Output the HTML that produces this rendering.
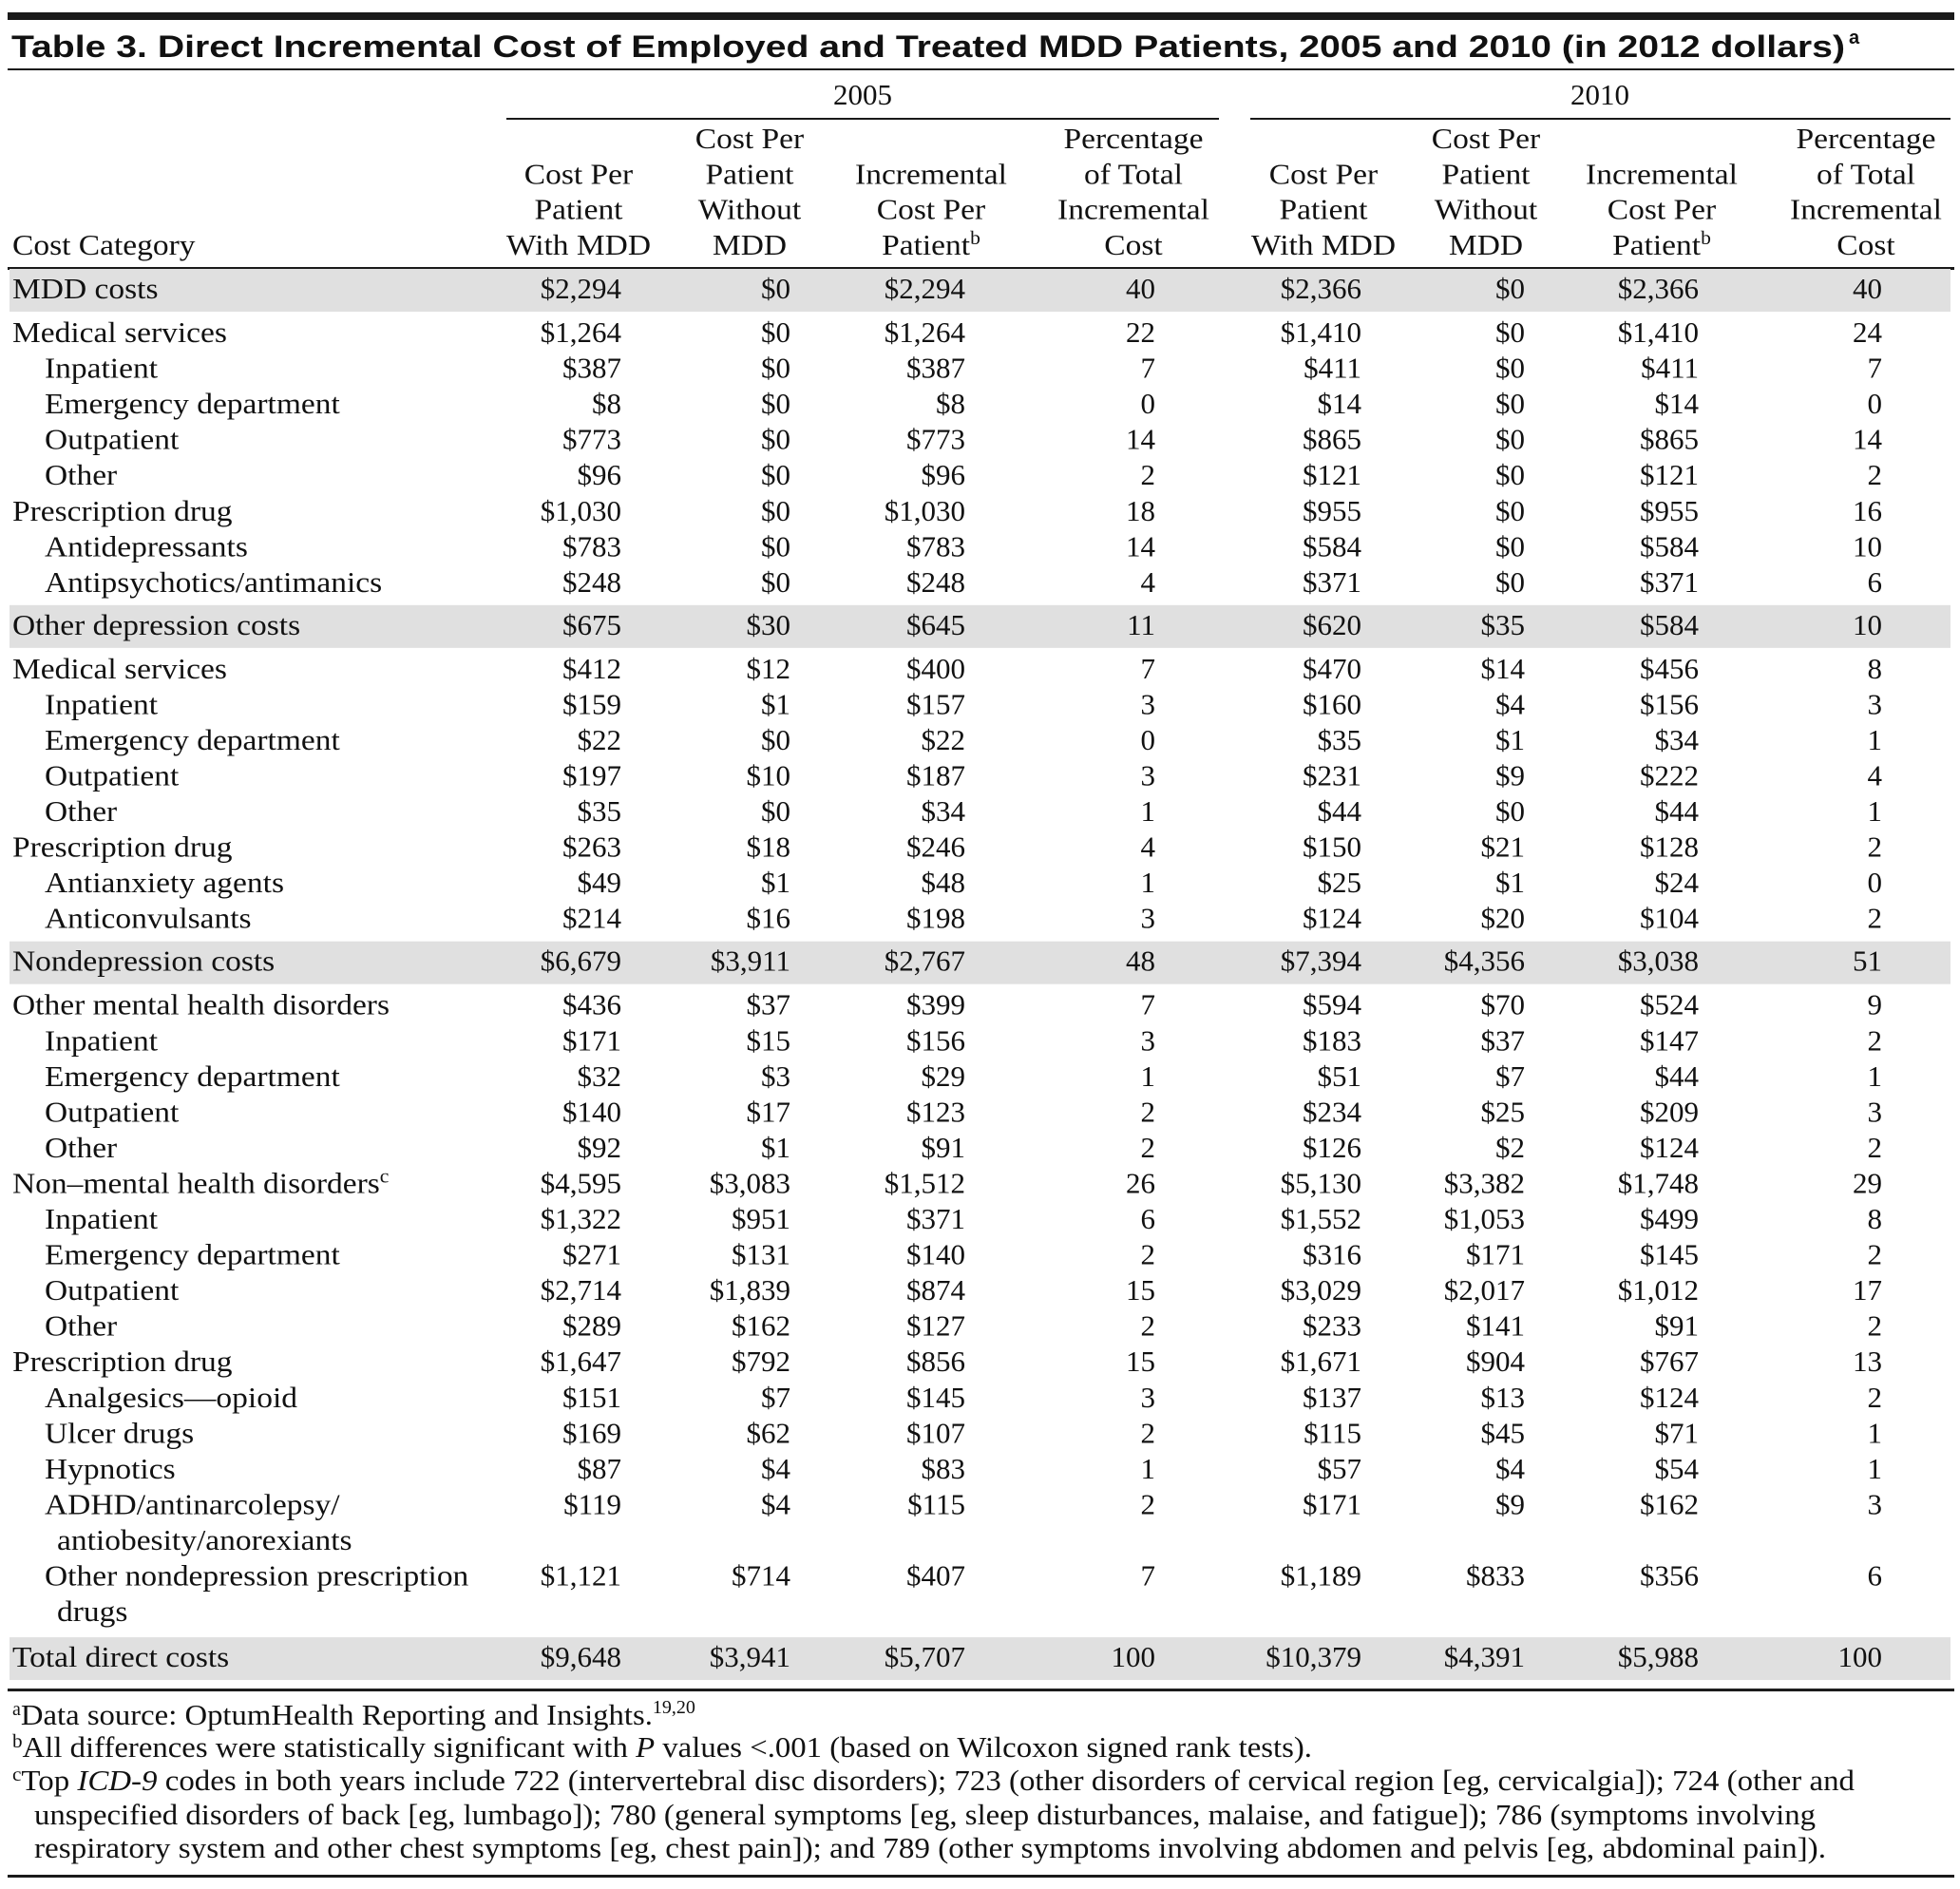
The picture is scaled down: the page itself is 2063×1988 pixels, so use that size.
<!DOCTYPE html>
<html><head><meta charset="utf-8"><style>
html,body{margin:0;padding:0;background:#fff;}
svg{display:block;}
text{font-family:"Liberation Serif",serif;font-size:31px;fill:#111;}
.t{font-family:"Liberation Sans",sans-serif;font-weight:bold;font-size:32px;}
</style></head><body>
<svg id="tbl" width="2063" height="1988" viewBox="0 0 2063 1988" xmlns="http://www.w3.org/2000/svg">
<rect x="8" y="13" width="2049" height="8" fill="#1a1a1a"/>
<text class="t" x="12" y="60" textLength="1930" lengthAdjust="spacingAndGlyphs">Table 3. Direct Incremental Cost of Employed and Treated MDD Patients, 2005 and 2010 (in 2012 dollars)</text>
<text class="t" x="1946" y="46" style="font-size:20px">a</text>
<rect x="8" y="72" width="2049" height="2" fill="#1a1a1a"/>
<text x="908" y="110" text-anchor="middle">2005</text>
<text x="1684" y="110" text-anchor="middle">2010</text>
<rect x="533" y="124" width="750" height="2" fill="#1a1a1a"/>
<rect x="1316" y="124" width="737" height="2" fill="#1a1a1a"/>
<text id="cc" x="13" y="268">Cost Category</text>
<g id="hdr"></g>
<rect x="8" y="281" width="2049" height="3" fill="#1a1a1a"/>
<g id="body"></g>
<g id="foot">
<text x="13" y="1815"><tspan font-size="20" dy="-10">a</tspan><tspan dy="10" textLength="665" lengthAdjust="spacingAndGlyphs">Data source: OptumHealth Reporting and Insights.</tspan><tspan font-size="20" dy="-12">19,20</tspan></text>
<text x="13" y="1849" textLength="1368" lengthAdjust="spacingAndGlyphs"><tspan font-size="20" dy="-10">b</tspan><tspan dy="10">All differences were statistically significant with </tspan><tspan font-style="italic">P</tspan> values &lt;.001 (based on Wilcoxon signed rank tests).</text>
<text x="13" y="1884" textLength="1939" lengthAdjust="spacingAndGlyphs"><tspan font-size="20" dy="-10">c</tspan><tspan dy="10">Top </tspan><tspan font-style="italic">ICD-9</tspan> codes in both years include 722 (intervertebral disc disorders); 723 (other disorders of cervical region [eg, cervicalgia]); 724 (other and</text>
<text x="36" y="1920" textLength="1875" lengthAdjust="spacingAndGlyphs">unspecified disorders of back [eg, lumbago]); 780 (general symptoms [eg, sleep disturbances, malaise, and fatigue]); 786 (symptoms involving</text>
<text x="36" y="1955" textLength="1886" lengthAdjust="spacingAndGlyphs">respiratory system and other chest symptoms [eg, chest pain]); and 789 (other symptoms involving abdomen and pelvis [eg, abdominal pain]).</text>
</g>
<rect x="8" y="1973" width="2049" height="3" fill="#1a1a1a"/>
</svg>
<script>
var NS='http://www.w3.org/2000/svg';
var colCenters=[609,789,980,1193,1393,1564,1749,1964];
var colRights=[654,832,1016,1216,1433,1605,1788,1981];
var headers=[["Cost Per","Patient","With MDD"],["Cost Per","Patient","Without","MDD"],["Incremental","Cost Per","Patient^b"],["Percentage","of Total","Incremental","Cost"]];
var labels=[
["MDD costs",0,"band"],["Medical services",0],["Inpatient",1],["Emergency department",1],["Outpatient",1],["Other",1],["Prescription drug",0],["Antidepressants",1],["Antipsychotics/antimanics",1],
["Other depression costs",0,"band"],["Medical services",0],["Inpatient",1],["Emergency department",1],["Outpatient",1],["Other",1],["Prescription drug",0],["Antianxiety agents",1],["Anticonvulsants",1],
["Nondepression costs",0,"band"],["Other mental health disorders",0],["Inpatient",1],["Emergency department",1],["Outpatient",1],["Other",1],["Non\u2013mental health disorders^c",0],["Inpatient",1],["Emergency department",1],["Outpatient",1],["Other",1],["Prescription drug",0],["Analgesics\u2014opioid",1],["Ulcer drugs",1],["Hypnotics",1],["ADHD/antinarcolepsy/",1],["antiobesity/anorexiants",2,"cont"],["Other nondepression prescription",1],["drugs",2,"cont"],
["Total direct costs",0,"band"]];
var values2005=[
["$2,294","$0","$2,294","40"],["$1,264","$0","$1,264","22"],["$387","$0","$387","7"],["$8","$0","$8","0"],["$773","$0","$773","14"],["$96","$0","$96","2"],["$1,030","$0","$1,030","18"],["$783","$0","$783","14"],["$248","$0","$248","4"],
["$675","$30","$645","11"],["$412","$12","$400","7"],["$159","$1","$157","3"],["$22","$0","$22","0"],["$197","$10","$187","3"],["$35","$0","$34","1"],["$263","$18","$246","4"],["$49","$1","$48","1"],["$214","$16","$198","3"],
["$6,679","$3,911","$2,767","48"],["$436","$37","$399","7"],["$171","$15","$156","3"],["$32","$3","$29","1"],["$140","$17","$123","2"],["$92","$1","$91","2"],["$4,595","$3,083","$1,512","26"],["$1,322","$951","$371","6"],["$271","$131","$140","2"],["$2,714","$1,839","$874","15"],["$289","$162","$127","2"],["$1,647","$792","$856","15"],["$151","$7","$145","3"],["$169","$62","$107","2"],["$87","$4","$83","1"],["$119","$4","$115","2"],null,["$1,121","$714","$407","7"],null,
["$9,648","$3,941","$5,707","100"]];
var values2010=[
["$2,366","$0","$2,366","40"],["$1,410","$0","$1,410","24"],["$411","$0","$411","7"],["$14","$0","$14","0"],["$865","$0","$865","14"],["$121","$0","$121","2"],["$955","$0","$955","16"],["$584","$0","$584","10"],["$371","$0","$371","6"],
["$620","$35","$584","10"],["$470","$14","$456","8"],["$160","$4","$156","3"],["$35","$1","$34","1"],["$231","$9","$222","4"],["$44","$0","$44","1"],["$150","$21","$128","2"],["$25","$1","$24","0"],["$124","$20","$104","2"],
["$7,394","$4,356","$3,038","51"],["$594","$70","$524","9"],["$183","$37","$147","2"],["$51","$7","$44","1"],["$234","$25","$209","3"],["$126","$2","$124","2"],["$5,130","$3,382","$1,748","29"],["$1,552","$1,053","$499","8"],["$316","$171","$145","2"],["$3,029","$2,017","$1,012","17"],["$233","$141","$91","2"],["$1,671","$904","$767","13"],["$137","$13","$124","2"],["$115","$45","$71","1"],["$57","$4","$54","1"],["$171","$9","$162","3"],null,["$1,189","$833","$356","6"],null,
["$10,379","$4,391","$5,988","100"]];

function mkText(parent,x,y,str,anchor){
  var t=document.createElementNS(NS,'text');
  t.setAttribute('x',x);t.setAttribute('y',y);
  if(anchor)t.setAttribute('text-anchor',anchor);
  var parts=str.split('^');
  t.appendChild(document.createTextNode(parts[0]));
  if(parts[1]){var s=document.createElementNS(NS,'tspan');s.setAttribute('font-size','20');s.setAttribute('dy','-11');s.textContent=parts[1];t.appendChild(s);}
  parent.appendChild(t);return t;
}
function widen(t,f){
  var len=t.getComputedTextLength();
  t.setAttribute('textLength',(len*f).toFixed(1));
  t.setAttribute('lengthAdjust','spacingAndGlyphs');
}
widen(document.getElementById('cc'),1.08);
var hdr=document.getElementById('hdr');
for(var c=0;c<8;c++){
  var h=headers[c%4];
  for(var k=0;k<h.length;k++){
    var y=268-(h.length-1-k)*37.3;
    var el=mkText(hdr,colCenters[c],y,h[k],'middle');
    
    
    widen(el,1.08);
  }
}
var body=document.getElementById('body');
var p=37.55,cur=0,B=282,first=true;
for(var i=0;i<labels.length;i++){
  var L=labels[i],yc;
  if(L[2]==='band'){
    if(!first)B=cur-p+23;
    if(i===labels.length-1)B+=3;
    first=false;
    var r=document.createElementNS(NS,'rect');
    r.setAttribute('x',10);r.setAttribute('y',B+1);r.setAttribute('width',2043);r.setAttribute('height',45);r.setAttribute('fill','#e0e0e0');
    
    
    body.appendChild(r);
    yc=B+22;cur=B+68;
  } else {yc=cur;cur+=p;}
  var by=yc+10;
  var lx=L[1]===0?13:(L[1]===1?47:60);
  var lt=mkText(body,lx,by,L[0]);
  
  
  widen(lt,1.08);
  if(L[2]==='cont')continue;
  var v=values2005[i].concat(values2010[i]);
  for(var c2=0;c2<8;c2++){
    var vt=mkText(body,colRights[c2],by,v[c2],'end');
    
    
  }
}
var ln=document.createElementNS(NS,'rect');
ln.setAttribute('x',8);ln.setAttribute('y',B+55);ln.setAttribute('width',2049);ln.setAttribute('height',3);ln.setAttribute('fill','#1a1a1a');


body.appendChild(ln);
</script>
</body></html>
